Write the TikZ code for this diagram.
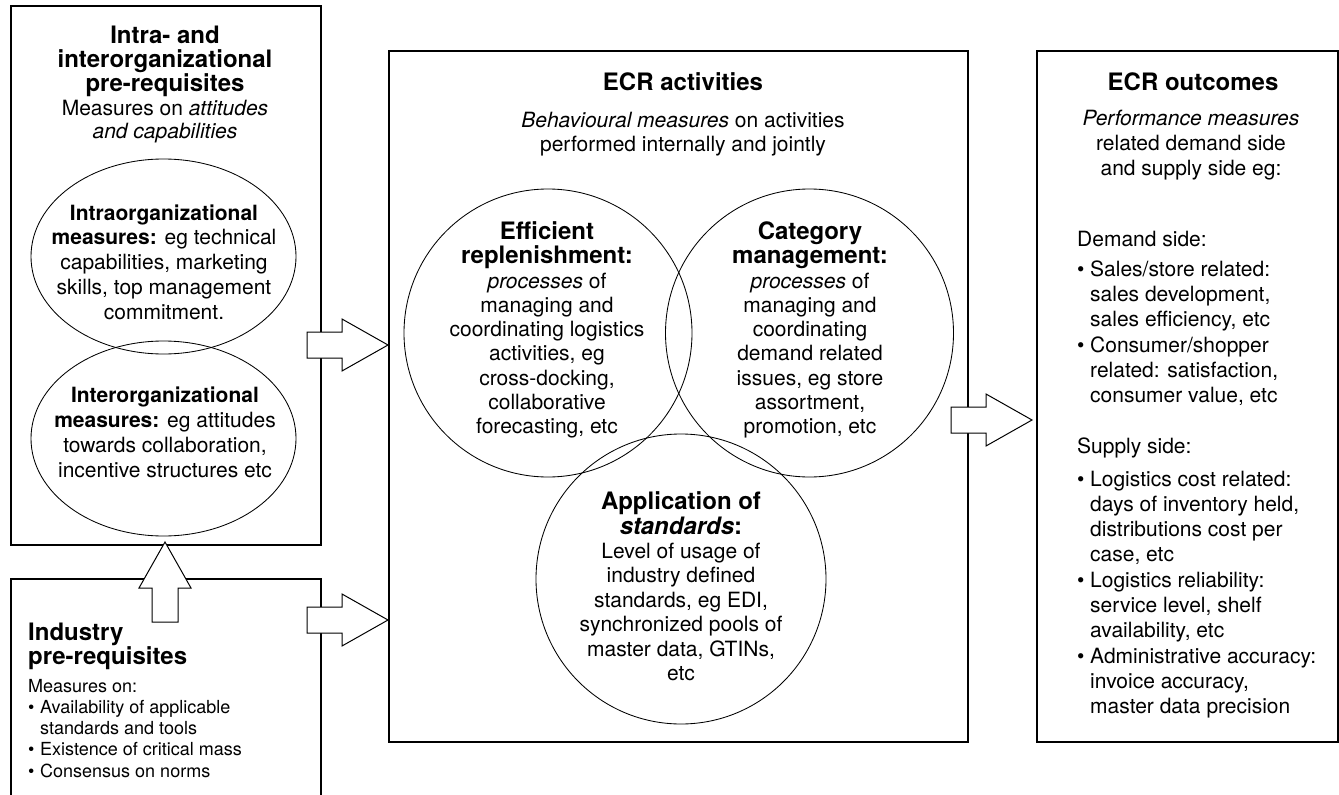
\documentclass[tikz,border=0pt]{standalone}
\usepackage{fontspec}
\setmainfont{TeX Gyre Heros}
\usetikzlibrary{shapes.geometric}
\newcommand\mybold{\fontsize{24}{24.25}\selectfont\bfseries}
\newcommand\mybul{\makebox[13pt][l]{\textbullet}}
\newcommand\myind{\hspace*{13pt}}
\newcommand\mysbul{\makebox[12pt][l]{\textbullet}}
\newcommand\mysind{\hspace*{12pt}}
\begin{document}
\begin{tikzpicture}[x=1pt,y=-1pt,
  box/.style={draw, line width=1.1pt, inner sep=0pt, outer sep=0pt, anchor=north west},
  ring/.style={draw, line width=0.85pt, inner sep=0pt},
  fat/.style={draw, line width=1pt, fill=white, line join=miter},
  txt/.style={inner sep=0pt, align=center, font=\fontsize{21}{24.25}\selectfont},
  hd/.style={inner sep=0pt, align=center, font=\fontsize{24}{24}\selectfont\bfseries},
  lst/.style={inner sep=0pt, anchor=north west, align=left}
]
\useasboundingbox (0,0) rectangle (1339,795);
\fill[white] (0,0) rectangle (1339,795);

% boxes
\node[box, minimum width=310pt, minimum height=539pt] (pre) at (11,6) {};
\node[box, minimum width=310pt, minimum height=240pt] (ind) at (11,579) {};
\node[box, minimum width=579pt, minimum height=691pt] (act) at (389,51) {};
\node[box, minimum width=301pt, minimum height=691pt] (out) at (1037,51) {};

% ellipses and circles
\node[ring, ellipse, minimum width=265pt, minimum height=195pt] (intra) at (163.5,256.5) {};
\node[ring, ellipse, minimum width=265pt, minimum height=195pt] (inter) at (163.5,438.5) {};
\node[ring, circle, minimum size=288pt] (er) at (548,333) {};
\node[ring, circle, minimum size=288pt] (cm) at (809.5,333) {};
\node[ring, circle, minimum size=290pt] (std) at (681,579) {};

% block arrows
\coordinate (up) at (165,542);
\draw[fat] (up) -- ++(26,46) -- ++(-13,0) -- ++(0,34) -- ++(-26,0) -- ++(0,-34) -- ++(-13,0) -- cycle;
\coordinate (r1) at (388,345);
\draw[fat] (r1) -- ++(-46,-26) -- ++(0,13) -- ++(-35,0) -- ++(0,26) -- ++(35,0) -- ++(0,13) -- cycle;
\coordinate (r2) at (388,620);
\draw[fat] (r2) -- ++(-46,-26) -- ++(0,13) -- ++(-35,0) -- ++(0,26) -- ++(35,0) -- ++(0,13) -- cycle;
\coordinate (r3) at (1032,420);
\draw[fat] (r3) -- ++(-46,-26) -- ++(0,13) -- ++(-35,0) -- ++(0,26) -- ++(35,0) -- ++(0,13) -- cycle;

% left top box texts
\node[hd] (pretitle) at (165,61) {Intra- and\\interorganizational\\pre-requisites};
\node[txt, font=\fontsize{21}{23.5}\selectfont] (presub) at (165,121.4) {Measures on \textit{attitudes}\\\textit{and capabilities}};
\node[txt, font=\fontsize{21}{24.75}\selectfont] (intratxt) at (164,262) {\textbf{Intraorganizational}\\\textbf{measures:} eg technical\\capabilities, marketing\\skills, top management\\commitment.};
\node[txt, font=\fontsize{21}{25}\selectfont] (intertxt) at (165,432) {\textbf{Interorganizational}\\\textbf{measures:} eg attitudes\\towards collaboration,\\incentive structures etc};

% industry box texts
\node[hd, lst] (indtitle) at (28,622.7) {Industry\\pre-requisites};
\node[lst, font=\fontsize{18}{21.2}\selectfont] (indlist) at (28,679) {Measures on:\\\mysbul Availability of applicable\\\mysind standards and tools\\\mysbul Existence of critical mass\\\mysbul Consensus on norms};

% middle box texts
\node[hd] (acttitle) at (683,81.4) {ECR activities};
\node[txt, font=\fontsize{21}{24}\selectfont] (actsub) at (683,133.7) {\textit{Behavioural measures} on activities\\performed internally and jointly};
\node[txt] (ertxt) at (547,330) {{\mybold Efficient}\\{\mybold replenishment:}\\\textit{processes} of\\managing and\\coordinating logistics\\activities, eg\\cross-docking,\\collaborative\\forecasting, etc};
\node[txt] (cmtxt) at (810,330) {{\mybold Category}\\{\mybold management:}\\\textit{processes} of\\managing and\\coordinating\\demand related\\issues, eg store\\assortment,\\promotion, etc};
\node[txt, font=\fontsize{21}{24.4}\selectfont] (stdtxt) at (681,586.4) {{\mybold Application of}\\{\mybold\itshape standards}{\mybold :}\\Level of usage of\\industry defined\\standards, eg EDI,\\synchronized pools of\\master data, GTINs,\\etc};

% right box texts
\node[hd] (outtitle) at (1193,81.4) {ECR outcomes};
\node[txt, font=\fontsize{21}{25}\selectfont] (outsub) at (1191,144.7) {\textit{Performance measures}\\related demand side\\and supply side eg:};
\node[lst, font=\fontsize{21}{25}\selectfont] (outlist) at (1077,231.4) {Demand side:\\[5pt]
\mybul Sales/store related:\\\myind sales development,\\\myind sales efficiency, etc\\[1pt]
\mybul Consumer/shopper\\\myind related: satisfaction,\\\myind consumer value, etc\\[26pt]
Supply side:\\[8pt]
\mybul Logistics cost related:\\\myind days of inventory held,\\\myind distributions cost per\\\myind case, etc\\[1pt]
\mybul Logistics reliability:\\\myind service level, shelf\\\myind availability, etc\\[1pt]
\mybul Administrative accuracy:\\\myind invoice accuracy,\\\myind master data precision};
\end{tikzpicture}
\end{document}
